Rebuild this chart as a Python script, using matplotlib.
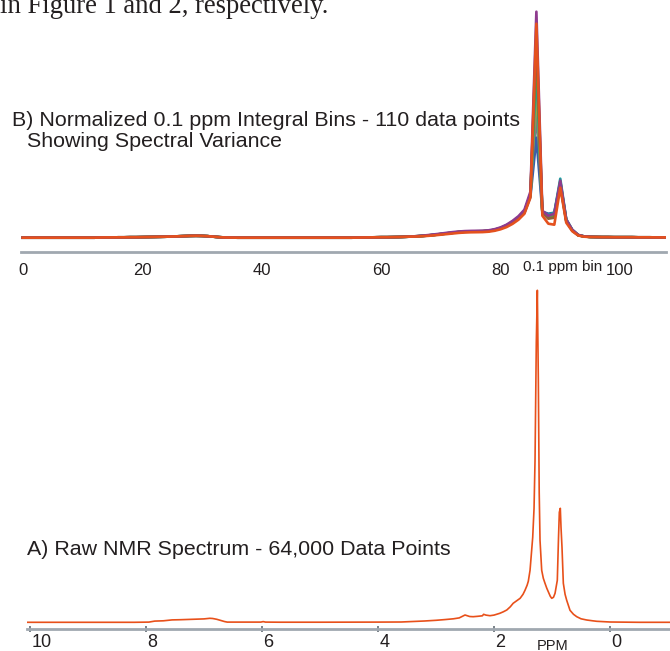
import matplotlib
matplotlib.use("Agg")
import matplotlib.pyplot as plt
from matplotlib.transforms import offset_copy

# ---------------- data ----------------
# Panel B: normalized 0.1 ppm integral bins (110 bins), several spectra
bin_ticks = [0, 20, 40, 60, 80, 100]
shared_low = [0, 0, 0, 0, 0, 0, 0, 0, 0, 0, 0, 0, 0,
              0.2, 0.3, 0.3, 0.4, 0.4, 0.5, 0.5, 0.6, 0.7, 0.8, 0.9, 1.0, 1.2,
              1.4, 1.6, 1.8, 1.9, 1.8, 1.5, 1.0, 0.5, 0.2, 0.1,
              0, 0, 0, 0, 0, 0, 0, 0, 0, 0, 0, 0, 0, 0, 0, 0, 0, 0, 0, 0,
              0.1, 0.2, 0.3, 0.4, 0.5, 0.5, 0.6, 0.7, 0.9, 1.1]          # bins 0-65
shared_high = [0.7, 0.6, 0.6, 0.5, 0.5, 0.5, 0.5, 0.4, 0.4, 0.4,
               0.3, 0.3, 0.3, 0.3]                                       # bins 96-109
# bins 66-95 for each spectrum
spec_gray = [1.5, 1.9, 2.4, 3.0, 3.7, 4.4, 5.1, 5.7, 6.1, 6.3, 6.4, 6.5, 6.9, 8.0, 9.8,
             12.4, 16, 20.6, 26.6, 43, 125, 26, 22, 23, 53, 17, 7.4, 2.5, 1.2, 0.8]
spec_blue = [1.3, 1.7, 2.2, 2.8, 3.5, 4.2, 4.9, 5.5, 5.9, 6.1, 6.2, 6.3, 6.7, 7.7, 9.3,
             11.7, 15, 19.3, 25, 41, 100, 26, 24, 25, 55, 18, 7.8, 2.6, 1.3, 0.8]
spec_olive = [1.4, 1.8, 2.3, 2.9, 3.6, 4.3, 5.0, 5.6, 6.0, 6.2, 6.3, 6.4, 6.8, 7.8, 9.5,
              12, 15.5, 20, 26, 42, 150, 25, 21, 22, 54, 17, 7.5, 2.5, 1.2, 0.8]
spec_teal = [1.3, 1.7, 2.2, 2.8, 3.5, 4.2, 4.9, 5.5, 5.9, 6.1, 6.2, 6.3, 6.7, 7.7, 9.4,
             11.8, 15.2, 19.5, 25.5, 42, 170, 26, 23, 25, 59, 18.5, 8, 2.7, 1.3, 0.8]
spec_green = [1.5, 1.9, 2.4, 3.0, 3.7, 4.4, 5.1, 5.7, 6.1, 6.3, 6.4, 6.5, 6.9, 7.9, 9.7,
              12.3, 15.8, 20.5, 26.5, 43, 185, 25, 21, 22, 56, 17.5, 7.6, 2.6, 1.2, 0.8]
spec_brown = [1.4, 1.8, 2.3, 2.9, 3.6, 4.3, 5.0, 5.6, 6.0, 6.2, 6.3, 6.4, 6.8, 7.8, 9.5,
              12, 15.5, 20, 26, 43, 200, 25, 19, 20, 52, 16.5, 7.2, 2.5, 1.2, 0.8]
spec_purple = [1.6, 2.1, 2.7, 3.4, 4.1, 4.9, 5.6, 6.2, 6.6, 6.8, 6.9, 7.0, 7.4, 8.5, 10.3,
               13, 16.8, 21.5, 28, 46, 226, 27, 22, 24, 57, 18, 8, 2.8, 1.3, 0.9]
spec_orange = [1.2, 1.5, 1.9, 2.4, 3.0, 3.6, 4.2, 4.8, 5.2, 5.4, 5.5, 5.6, 6.0, 6.9, 8.4,
               10.6, 13.8, 18, 24, 40, 214, 22, 14, 13, 50, 15, 6.5, 2.2, 1.0, 0.7]
spectra_b = [spec_gray, spec_blue, spec_olive, spec_teal, spec_green,
             spec_brown, spec_purple, spec_orange]
colors_b = ["#6E7B8B", "#3A5FA8", "#A7A23C", "#1B9C9C", "#5A9E3A",
            "#8C6239", "#8E3B8E", "#E4511E"]

# Panel A: raw NMR spectrum (ppm, intensity)
ppm_ticks = [10, 8, 6, 4, 2, 0]
ppm_raw = [10.06, 9.0, 8.2, 7.95, 7.85, 7.7, 7.55, 7.4, 7.25, 7.1, 7.0, 6.9, 6.85,
           6.78, 6.72, 6.65, 6.6, 6.02, 5.98, 5.94, 5.7, 5.0, 4.0, 3.6, 3.4, 3.2,
           3.0, 2.85, 2.7, 2.6, 2.5, 2.42, 2.36, 2.28, 2.2, 2.18, 2.14, 2.07, 2.0,
           1.9, 1.84, 1.78, 1.72, 1.67, 1.61, 1.55, 1.5, 1.466, 1.43, 1.409, 1.379,
           1.333, 1.31, 1.293, 1.271, 1.253, 1.236, 1.221, 1.207, 1.178, 1.15, 1.121,
           1.09, 1.06, 1.03, 1.005, 0.975, 0.948, 0.909, 0.888, 0.874, 0.857, 0.845,
           0.828, 0.805, 0.775, 0.747, 0.69, 0.63, 0.574, 0.5, 0.402, 0.3, 0.229,
           0.1, 0.0, -0.5, -1.04]
int_raw = [0, 0, 0, 0.2, 1.2, 1.5, 2.4, 2.6, 2.9, 3.2, 3.4, 4.0, 3.8,
           3.0, 2.0, 0.8, 0.2, 0.2, 0.7, 0.2, 0.1, 0.1, 0.2, 0.3, 0.8, 1.3,
           2.0, 2.7, 3.5, 4.4, 7.3, 5.8, 5.6, 6.0, 6.5, 8.0, 7.2, 6.6, 7.2,
           9.0, 10.5, 12.3, 15.5, 19, 21.5, 24, 28, 32, 37, 41, 52,
           85, 114, 162, 280, 332, 242, 130, 82, 52, 44, 39,
           34, 30, 26, 24, 25, 29, 42, 85, 110, 114, 95,
           75, 39, 28, 22, 12, 8, 5.6, 3.5, 2.3, 1.5, 1.0,
           0.6, 0.3, 0, 0]

# ---------------- figure ----------------
W, H = 670, 651
fig = plt.figure(figsize=(W / 100, H / 100), dpi=100)
TXT = "#231F20"
AXC = "#A0A8B0"
SANS = ["Liberation Sans", "DejaVu Sans"]
NARROW = ["Liberation Sans Narrow", "Liberation Sans", "DejaVu Sans"]


def px_axes(left, bottom, right, top):
    return fig.add_axes([left / W, bottom / H, (right - left) / W, (top - bottom) / H])


# ---- Panel B ----
axb = px_axes(20.7, 398.7, 666, 651)
bins = list(range(len(shared_low) + len(spec_gray) + len(shared_high)))
for spec, col in zip(spectra_b, colors_b):
    vals = shared_low + spec + shared_high
    axb.plot(bins, vals, color=col, lw=1.9, solid_joinstyle="round")
axb.set_xlim(-0.335, 107.7)
axb.set_ylim(-14.6, 237.7)
for s in ["top", "right", "left"]:
    axb.spines[s].set_visible(False)
axb.spines["bottom"].set_color(AXC)
axb.spines["bottom"].set_linewidth(2)
axb.set_yticks([])
axb.set_xticks([])
lab_tr_b = offset_copy(axb.get_xaxis_transform(), fig=fig, y=-22.7, units="dots")
for b in bin_ticks:
    axb.text(b, 0, str(b), transform=lab_tr_b, ha="center", va="baseline",
             fontsize=12, family=NARROW, color=TXT)
axb.patch.set_visible(False)

# ---- Panel A ----
axa = px_axes(26.7, 22.3, 670, 371)
axa.plot(ppm_raw, int_raw, color="#E8501A", lw=1.2)
axa.set_xlim(10.057, -1.034)
axa.set_ylim(-6.4, 342.3)
for s in ["top", "right", "left"]:
    axa.spines[s].set_visible(False)
axa.spines["bottom"].set_color(AXC)
axa.spines["bottom"].set_linewidth(2)
axa.set_yticks([])
axa.set_xticks(ppm_ticks)
axa.tick_params(axis="x", direction="inout", length=4.5, width=1.3, color="#6F7880",
                labelbottom=False)
lab_tr_a = offset_copy(axa.get_xaxis_transform(), fig=fig, x=1.5, y=-18.3, units="dots")
for p in ppm_ticks:
    axa.text(p, 0, str(p), transform=lab_tr_a, ha="left", va="baseline",
             fontsize=13, family=NARROW, color=TXT)
axa.patch.set_visible(False)

# ---- texts ----
fig.text(0 / W, (H - 13.3) / H, "in Figure 1 and 2, respectively.", ha="left",
         va="baseline", fontsize=19.2, family=["Liberation Serif", "DejaVu Serif"],
         color=TXT)
fig.text(12 / W, (H - 125.5) / H, "B) Normalized 0.1 ppm Integral Bins - 110 data points",
         ha="left", va="baseline", fontsize=15.4, family=SANS, color=TXT)
fig.text(27 / W, (H - 147) / H, "Showing Spectral Variance",
         ha="left", va="baseline", fontsize=15.4, family=SANS, color=TXT)
fig.text(562.7 / W, (H - 270.7) / H, "0.1 ppm bin", ha="center", va="baseline",
         fontsize=11, family=SANS, color=TXT)
fig.text(27 / W, (H - 555) / H, "A) Raw NMR Spectrum - 64,000 Data Points",
         ha="left", va="baseline", fontsize=15.4, family=SANS, color=TXT)
fig.text(553 / W, 1.5 / H, "PPM", ha="center", va="baseline", fontsize=10.5,
         family=SANS, color=TXT)

fig.savefig("out.png", dpi=100)
